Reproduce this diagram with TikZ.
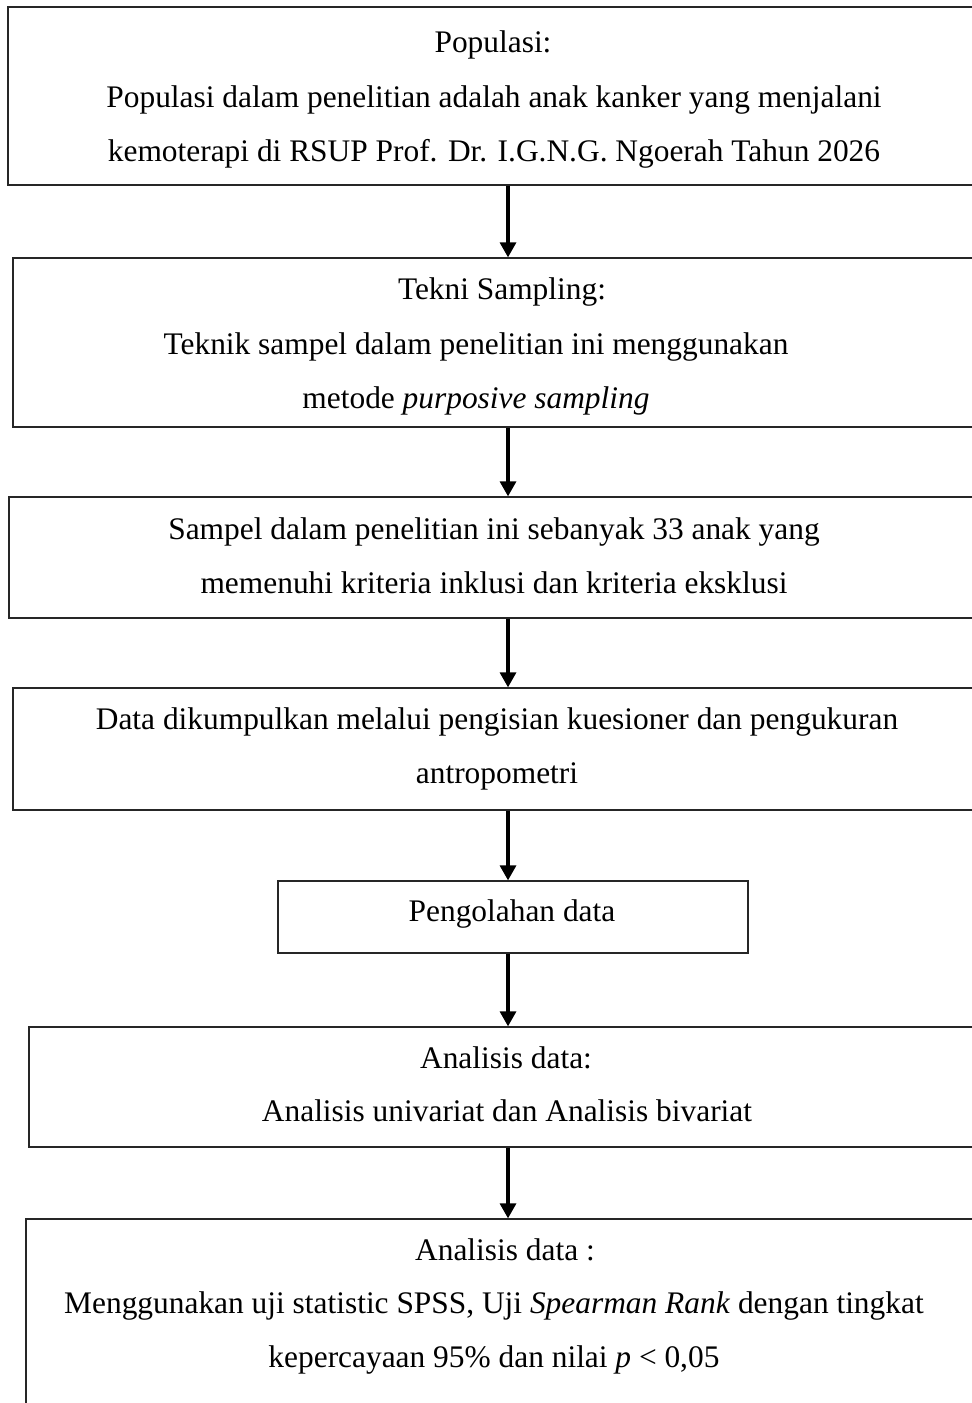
\documentclass[tikz,border=0pt]{standalone}
\usepackage{fontspec}
\setmainfont{Liberation Serif}
\usetikzlibrary{fit,arrows.meta}

\begin{document}
\begin{tikzpicture}[x=0.5pt, y=-0.5pt,
      font=\fontsize{15.7}{27}\selectfont,
      box/.style={draw=black!85, line width=0.65pt, inner sep=0pt},
      txt/.style={align=center, inner sep=0pt},
      flow/.style={-{Triangle[length=7.5pt, width=8pt]}, line width=1.6pt}]

    \useasboundingbox (0,0) rectangle (972,1403);
    \clip (0,0) rectangle (972,1403);

    % boxes (they run past the right edge of the page)
    \node[box, fit={(8,7) (990,185)}] (b1) {};
    \node[box, fit={(13,258) (990,427)}] (b2) {};
    \node[box, fit={(9,497) (990,618)}] (b3) {};
    \node[box, fit={(13,688) (990,810)}] (b4) {};
    \node[box, fit={(278,881) (748,953)}] (b5) {};
    \node[box, fit={(29,1027) (990,1147)}] (b6) {};
    \node[box, fit={(26,1219) (990,1450)}] (b7) {};

    % texts
    \node[txt] (t1) at (493,45) {Populasi:};
    \node[txt] (p1) at (494,127) {Populasi dalam penelitian adalah anak kanker yang menjalani\\
      kemoterapi di RSUP Prof. Dr. I.G.N.G. Ngoerah Tahun 2026};
    \node[txt] (t2) at (502,292) {Tekni Sampling:};
    \node[txt] (p2) at (476,374) {Teknik sampel dalam penelitian ini menggunakan\\
      metode \textit{purposive sampling}};
    \node[txt] (p3) at (494,556) {Sampel dalam penelitian ini sebanyak 33 anak yang\\
      memenuhi kriteria inklusi dan kriteria eksklusi};
    \node[txt] (p4) at (497,749) {Data dikumpulkan melalui pengisian kuesioner dan pengukuran\\
      antropometri};
    \node[txt] (p5) at (512,914) {Pengolahan data};
    \node[txt] (t6) at (506,1058) {Analisis data:};
    \node[txt] (p6) at (507,1111) {Analisis univariat dan Analisis bivariat};
    \node[txt] (t7) at (505,1250) {Analisis data :};
    \node[txt] (p7) at (494,1333) {Menggunakan uji statistic SPSS, Uji \textit{Spearman Rank} dengan tingkat\\
      kepercayaan 95\% dan nilai \textit{p} < 0,05};

    % arrows
    \coordinate (ax) at (508,0);
    \foreach \i/\j in {1/2,2/3,3/4,4/5,5/6,6/7} {
      \draw[flow] (b\i.south -| ax) -- (b\j.north -| ax);
    }
  \end{tikzpicture}
\end{document}
